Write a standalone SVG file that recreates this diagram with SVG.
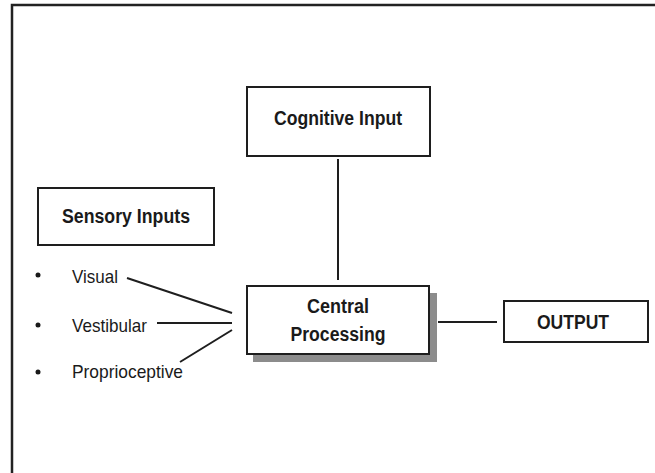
<svg xmlns="http://www.w3.org/2000/svg" width="655" height="473" viewBox="0 0 655 473">
<style>
.box{fill:#fff;stroke:#1e1e1e;stroke-width:2}
.lbl{font-family:"Liberation Sans",Arial,sans-serif;font-weight:bold;font-size:20px;fill:#1a1a1a;text-anchor:middle}
.item{font-family:"Liberation Sans",Arial,sans-serif;font-size:19px;fill:#1a1a1a}
.conn{stroke:#1e1e1e;stroke-width:2;fill:none}
</style>
<rect x="0" y="0" width="655" height="473" fill="#fff"/>
<rect x="12" y="5" width="700" height="520" fill="none" stroke="#222" stroke-width="2.5"/>
<g id="cognitive">
<rect class="box" x="247" y="87" width="183" height="69"/>
<text class="lbl" x="338" y="125" textLength="128" lengthAdjust="spacingAndGlyphs">Cognitive Input</text>
</g>
<g id="sensory">
<rect class="box" x="38" y="188" width="176" height="57"/>
<text class="lbl" x="126" y="223" textLength="128" lengthAdjust="spacingAndGlyphs">Sensory Inputs</text>
</g>
<g id="visual">
<circle cx="38" cy="275" r="2.5" fill="#1a1a1a"/>
<text class="item" x="72" y="283" textLength="46" lengthAdjust="spacingAndGlyphs">Visual</text>
</g>
<g id="vestibular">
<circle cx="38" cy="325" r="2.5" fill="#1a1a1a"/>
<text class="item" x="72" y="332" textLength="75" lengthAdjust="spacingAndGlyphs">Vestibular</text>
</g>
<g id="proprioceptive">
<circle cx="38" cy="372" r="2.5" fill="#1a1a1a"/>
<text class="item" x="72" y="378" textLength="111" lengthAdjust="spacingAndGlyphs">Proprioceptive</text>
</g>
<g id="central">
<rect x="253" y="293" width="184" height="69" fill="#8c8c8c"/>
<rect class="box" x="247" y="286" width="182" height="68"/>
<text class="lbl" x="338" y="313" textLength="62" lengthAdjust="spacingAndGlyphs">Central</text>
<text class="lbl" x="338" y="341" textLength="95" lengthAdjust="spacingAndGlyphs">Processing</text>
</g>
<g id="output">
<rect class="box" x="504" y="301" width="144" height="41"/>
<text class="lbl" x="573" y="329" textLength="72" lengthAdjust="spacingAndGlyphs">OUTPUT</text>
</g>
<g id="connectors">
<line class="conn" x1="338" y1="159" x2="338" y2="280"/>
<line class="conn" x1="127" y1="278" x2="232" y2="313"/>
<line class="conn" x1="157" y1="323" x2="232" y2="323"/>
<line class="conn" x1="180" y1="362" x2="232" y2="330"/>
<line class="conn" x1="438" y1="322" x2="497" y2="322"/>
</g>
</svg>
